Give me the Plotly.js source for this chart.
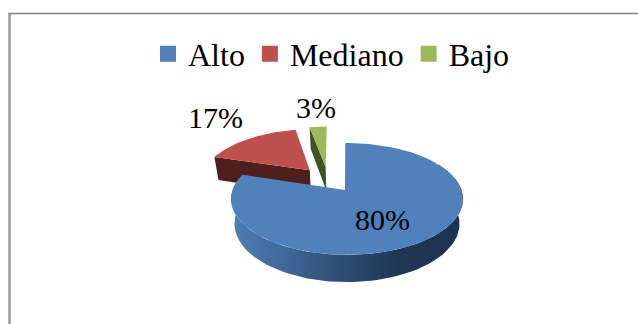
<!DOCTYPE html>
<html>
<head>
<meta charset="utf-8">
<script src="https://cdn.plot.ly/plotly-3.0.1.min.js"></script>
<style>html,body{margin:0;padding:0;background:#fff}#chart{width:638px;height:324px}</style>
</head>
<body>
<div id="chart"></div>
<script>
// Shares per level
const categories = ['Alto', 'Mediano', 'Bajo'];
const percents = [80, 17, 3];

// Face colours for each slice
const faceColors = ['#4f81bd', '#c0504d', '#9bbb59'];
const cutColors = ['#2c4768', '#4e1f1d', '#3f5222'];

// Tilted-disc projection, in pixels on the full-page axes
const view = { cx: 347, cy: 190, rx: 114.5, ry: 54.5, persp: 0.16, depth: 24.5, lowerScale: 0.97 };
// Slice offsets in disc units (right, back)
const explode = [[0, 0], [-0.345, 0.385], [-0.2, 0.453]];
// The apex of the large slice sits slightly left of the disc centre
const apexShift = [[-0.0175, 0], [0, 0], [0, 0]];
const sliceRadius = 0.98;
const firstSliceAngle = -1;

function project(u, v, lower) {
  const w = 1 + view.persp * v;
  const s = lower ? view.lowerScale : 1;
  return [
    view.cx + s * view.rx * u / w,
    view.cy - s * view.ry * v / w + (lower ? view.depth / w : 0)
  ];
}

// Point on the rim of slice i at a clockwise angle from twelve o'clock
function rim(i, deg, r) {
  const a = deg * Math.PI / 180;
  return [explode[i][0] + r * Math.sin(a), explode[i][1] + r * Math.cos(a)];
}

function arc(i, from, to, r, lower) {
  const pts = [];
  const n = Math.max(2, Math.ceil(Math.abs(to - from) / 2));
  for (let k = 0; k <= n; k++) {
    const p = rim(i, from + (to - from) * k / n, r);
    pts.push(project(p[0], p[1], lower));
  }
  return pts;
}

function polygon(pts, color, extra) {
  return Object.assign({
    type: 'scatter', mode: 'lines', fill: 'toself', fillcolor: color,
    x: pts.map(p => p[0].toFixed(2) * 1).concat(pts[0][0]),
    y: pts.map(p => p[1].toFixed(2) * 1).concat(pts[0][1]),
    line: { width: 0, color: color }, showlegend: false, hoverinfo: 'skip'
  }, extra || {});
}

// Start and end angle of every slice
const spans = [];
percents.reduce((acc, p) => { spans.push([acc, acc + p * 3.6]); return acc + p * 3.6; }, firstSliceAngle);

function topFace(i) {
  const apex = project(explode[i][0] + apexShift[i][0], explode[i][1] + apexShift[i][1], false);
  return polygon([apex].concat(arc(i, spans[i][0], spans[i][1], i ? sliceRadius : 1, false)), faceColors[i]);
}

// Radial cut face that runs from the apex to the rim at a given angle
function cutFace(i, deg) {
  const r = sliceRadius;
  const e = rim(i, deg, r);
  const pts = [
    project(explode[i][0], explode[i][1], false),
    project(e[0], e[1], false),
    project(e[0], e[1], true),
    project(explode[i][0], explode[i][1], true)
  ];
  return polygon(pts, cutColors[i]);
}

// Outer wall of the large slice, shaded left to right
function outerWall(i, from, to) {
  const top = arc(i, from, to, 1, false);
  const low = arc(i, to, from, 1, true);
  return polygon(top.concat(low), cutColors[i], {
    fillgradient: {
      type: 'horizontal', start: 231, stop: 463,
      colorscale: [[0, '#4e7cb4'], [0.2, '#416b9e'], [0.45, '#304f77'], [0.72, '#203754'], [1, '#1d3150']]
    }
  });
}

// Legend entries carry square swatches; the discs are drawn by the polygons
const legendTraces = categories.map((name, i) => ({
  type: 'scatter', mode: 'markers', x: [null], y: [null], name: name,
  marker: { symbol: 'square', size: 16, color: faceColors[i] }, hoverinfo: 'skip'
}));

const traces = [
  cutFace(1, spans[1][0]),
  topFace(1),
  cutFace(2, spans[2][0]),
  topFace(2),
  outerWall(0, 60, spans[0][1]),
  topFace(0)
].concat(legendTraces);

// Value labels beside or on their slices
const labelAnchors = [[382, 219], [215, 117], [316, 107]];
const serif = '"Liberation Serif", "Times New Roman", serif';
const labelFont = { family: serif, size: 30, color: '#000' };
const legendFont = { family: serif, size: 32, color: '#000' };
const annotations = percents.map((p, i) => ({
  x: labelAnchors[i][0], y: labelAnchors[i][1], xref: 'x', yref: 'y',
  text: p + '%', showarrow: false, font: labelFont, xanchor: 'center', yanchor: 'middle'
}));

const frameColor = '#858585';
const layout = {
  width: 638, height: 324,
  margin: { l: 0, r: 0, t: 0, b: 0 },
  paper_bgcolor: '#fff', plot_bgcolor: '#fff',
  xaxis: { range: [0, 638], visible: false, fixedrange: true },
  yaxis: { range: [324, 0], visible: false, fixedrange: true },
  showlegend: true,
  legend: {
    orientation: 'h', x: 148 / 638, y: 1 - 54 / 324, xanchor: 'left', yanchor: 'middle',
    font: legendFont, bgcolor: 'rgba(0,0,0,0)', traceorder: 'normal'
  },
  annotations: annotations,
  shapes: [
    { type: 'line', xref: 'x', yref: 'y', x0: 8, x1: 638, y0: 13.5, y1: 13.5, line: { color: frameColor, width: 1.5 } },
    { type: 'line', xref: 'x', yref: 'y', x0: 9.5, x1: 9.5, y0: 13, y1: 324, line: { color: '#9a9a9a', width: 2.5 } }
  ]
};

Plotly.newPlot('chart', traces, layout, { displayModeBar: false, staticPlot: true });
</script>
</body>
</html>
